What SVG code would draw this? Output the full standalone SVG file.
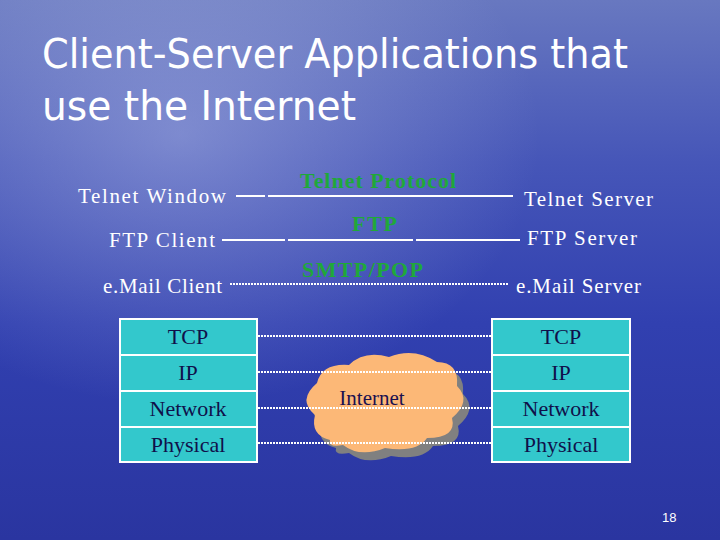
<svg xmlns="http://www.w3.org/2000/svg" width="720" height="540" viewBox="0 0 720 540">
<defs>
<linearGradient id="bg" x1="0" y1="0" x2="0" y2="1">
<stop offset="0" stop-color="#6878c0"/><stop offset="0.3" stop-color="#4656b8"/><stop offset="0.6" stop-color="#3140b0"/><stop offset="1" stop-color="#2a35a0"/>
</linearGradient>
<radialGradient id="glow" cx="0.25" cy="0.25" r="0.5"><stop offset="0" stop-color="#c8d0f0" stop-opacity="0.4"/><stop offset="1" stop-color="#c8d0f0" stop-opacity="0"/></radialGradient>
<style>
.lbl{font-family:"Liberation Serif",serif;font-size:21px;fill:#fff}
.prot{font-family:"Liberation Serif",serif;font-size:22px;font-weight:bold;fill:#1fa83a}
.cell{fill:#33c8cc;stroke:#fff;stroke-width:2}
.ct{font-family:"Liberation Serif",serif;font-size:22px;fill:#10104a;text-anchor:middle}
.solid{stroke:#fff;stroke-width:2;fill:none}
.dot{stroke:#fff;stroke-width:2;stroke-dasharray:2 1;fill:none}
</style>
</defs>
<rect width="720" height="540" fill="url(#bg)"/>
<rect width="720" height="540" fill="url(#glow)"/>
<text x="42" y="68" font-family="DejaVu Sans,sans-serif" font-size="40" fill="#fff" textLength="586" lengthAdjust="spacingAndGlyphs">Client-Server Applications that</text>
<text x="42" y="120" font-family="DejaVu Sans,sans-serif" font-size="40" fill="#fff" textLength="314" lengthAdjust="spacingAndGlyphs">use the Internet</text>
<g id="cloud">
<path d="M330 440 q-20 -5 -15 -25 q-18 -15 2 -32 q5 -20 32 -18 q15 -15 40 -8 q25 -10 48 5 q22 0 20 24 q15 15 -5 32 q5 20 -25 20 q-10 15 -42 10 q-25 10 -42 -3 q-15 3 -13 -5z" fill="#808080" transform="translate(6,8)"/>
<path d="M330 440 q-20 -5 -15 -25 q-18 -15 2 -32 q5 -20 32 -18 q15 -15 40 -8 q25 -10 48 5 q22 0 20 24 q15 15 -5 32 q5 20 -25 20 q-10 15 -42 10 q-25 10 -42 -3 q-15 3 -13 -5z" fill="#fcb877"/>
<text x="372" y="405" font-family="Liberation Serif,serif" font-size="21" fill="#1a1050" text-anchor="middle">Internet</text>
</g>
<g id="connectors">
<path class="solid" d="M236 196H265M268 196H513"/>
<path class="solid" d="M222 240H285M288 240H413M416 240H520"/>
<path class="dot" d="M230 284H508"/>
<path class="dot" d="M258 336H491M258 372H491M258 408H491M258 443H491"/>
</g>
<g id="labels">
<text class="lbl" x="78" y="203" textLength="148">Telnet Window</text>
<text class="lbl" x="109" y="247" textLength="106">FTP Client</text>
<text class="lbl" x="103" y="293" textLength="119">e.Mail Client</text>
<text class="lbl" x="524" y="206" textLength="129">Telnet Server</text>
<text class="lbl" x="527" y="245" textLength="110">FTP Server</text>
<text class="lbl" x="516" y="293" textLength="125">e.Mail Server</text>
<text class="prot" x="300" y="188" textLength="156">Telnet Protocol</text>
<text class="prot" x="352" y="231" textLength="45">FTP</text>
<text class="prot" x="302" y="277" textLength="121">SMTP/POP</text>
</g>
<g id="left-stack">
<rect class="cell" x="120" y="319" width="137" height="36"/>
<rect class="cell" x="120" y="355" width="137" height="36"/>
<rect class="cell" x="120" y="391" width="137" height="36"/>
<rect class="cell" x="120" y="427" width="137" height="35"/>
<text class="ct" x="188" y="344">TCP</text>
<text class="ct" x="188" y="380">IP</text>
<text class="ct" x="188" y="416">Network</text>
<text class="ct" x="188" y="452">Physical</text>
</g>
<g id="right-stack">
<rect class="cell" x="492" y="319" width="138" height="36"/>
<rect class="cell" x="492" y="355" width="138" height="36"/>
<rect class="cell" x="492" y="391" width="138" height="36"/>
<rect class="cell" x="492" y="427" width="138" height="35"/>
<text class="ct" x="561" y="344">TCP</text>
<text class="ct" x="561" y="380">IP</text>
<text class="ct" x="561" y="416">Network</text>
<text class="ct" x="561" y="452">Physical</text>
</g>
<text x="662" y="522" font-family="Liberation Sans,sans-serif" font-size="13" fill="#fff">18</text>
</svg>
